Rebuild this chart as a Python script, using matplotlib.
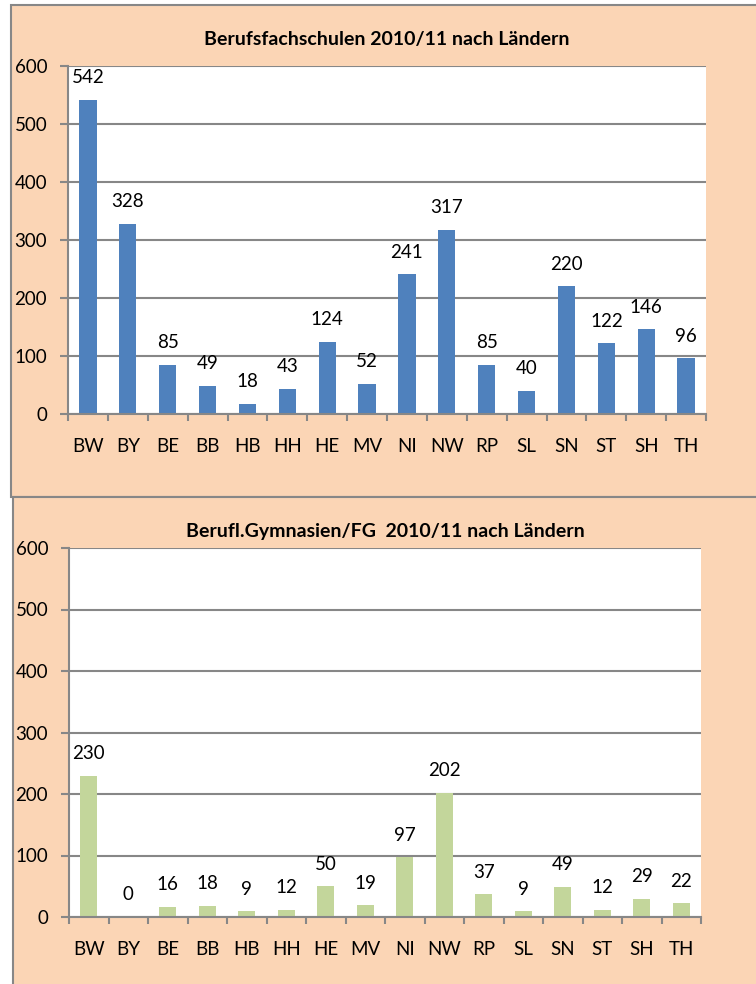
import matplotlib
matplotlib.use("Agg")
import matplotlib.pyplot as plt
from matplotlib.patches import Rectangle

laender = ['BW', 'BY', 'BE', 'BB', 'HB', 'HH', 'HE', 'MV', 'NI', 'NW', 'RP', 'SL', 'SN', 'ST', 'SH', 'TH']
berufsfachschulen = [542, 328, 85, 49, 18, 43, 124, 52, 241, 317, 85, 40, 220, 122, 146, 96]
gymnasien = [230, 0, 16, 18, 9, 12, 50, 19, 97, 202, 37, 9, 49, 12, 29, 22]
yticks = [0, 100, 200, 300, 400, 500, 600]

titel_oben = 'Berufsfachschulen 2010/11 nach Ländern'
titel_unten = 'Berufl.Gymnasien/FG  2010/11 nach Ländern'

plt.rcParams['font.family'] = ['Lato', 'DejaVu Sans']

W, H = 756, 984
peach = '#FBD5B5'
grau = '#878787'
fs = 13.5

fig = plt.figure(figsize=(W / 100, H / 100), dpi=100, facecolor='white')


def px(x0, y0, x1, y1):
    # pixel box (top-left origin) -> figure fraction
    return [x0 / W, 1 - y1 / H, (x1 - x0) / W, (y1 - y0) / H]


# Hintergrundflaechen der beiden Diagramme
fig.patches.append(Rectangle((11 / W, 1 - 497 / H), (W + 10 - 11) / W, (497 - 5) / H,
                             transform=fig.transFigure, facecolor=peach, edgecolor=grau,
                             linewidth=1.5, zorder=-5))
fig.patches.append(Rectangle((13 / W, 1 - (H + 10) / H), (W + 10 - 13) / W, (H + 10 - 497) / H,
                             transform=fig.transFigure, facecolor=peach, edgecolor=grau,
                             linewidth=1.5, zorder=-5))


def plotBars(box, werte, farbe, titel, titel_y):
    ax = fig.add_axes(px(*box))
    ax.set_facecolor('white')
    pos = list(range(len(laender)))
    ax.bar(pos, werte, width=0.43, color=farbe, zorder=3)
    ax.set_xlim(-0.5, len(laender) - 0.5)
    ax.set_ylim(0, 600)
    ax.set_yticks(yticks)
    ax.set_yticklabels([str(t) for t in yticks], fontsize=fs)
    ax.set_xticks(pos)
    ax.set_xticklabels(laender, fontsize=fs)
    ax.set_xticks([p - 0.5 for p in pos] + [len(laender) - 0.5], minor=True)
    ax.tick_params(axis='x', which='major', length=0, pad=17)
    ax.tick_params(axis='x', which='minor', length=5, width=1.5, color=grau, direction='out')
    ax.tick_params(axis='y', length=6, width=1.5, color=grau, pad=9)
    ax.yaxis.grid(True, color=grau, linewidth=1.5, zorder=0)
    ax.set_axisbelow(True)
    for s in ['top', 'right']:
        ax.spines[s].set_visible(False)
    ax.spines['left'].set_color(grau)
    ax.spines['left'].set_linewidth(1.5)
    ax.spines['bottom'].set_color(grau)
    ax.spines['bottom'].set_linewidth(1.5)
    ax.spines['bottom'].set_zorder(4)
    for p, v in zip(pos, werte):
        ax.annotate(str(v), (p, v), xytext=(0, 12), textcoords='offset points',
                    ha='center', va='baseline', fontsize=fs, color='black')
    cx = (box[0] + box[2]) / 2
    fig.text(cx / W, 1 - titel_y / H, titel, ha='center', va='center',
             fontsize=14, fontweight='bold', color='black')
    return ax


plotBars((68, 66, 706, 414), berufsfachschulen, '#4F81BD', titel_oben, 40)
plotBars((69, 548, 701, 917), gymnasien, '#C3D69B', titel_unten, 532)

fig.savefig('out.png', dpi=100, facecolor=fig.get_facecolor())
